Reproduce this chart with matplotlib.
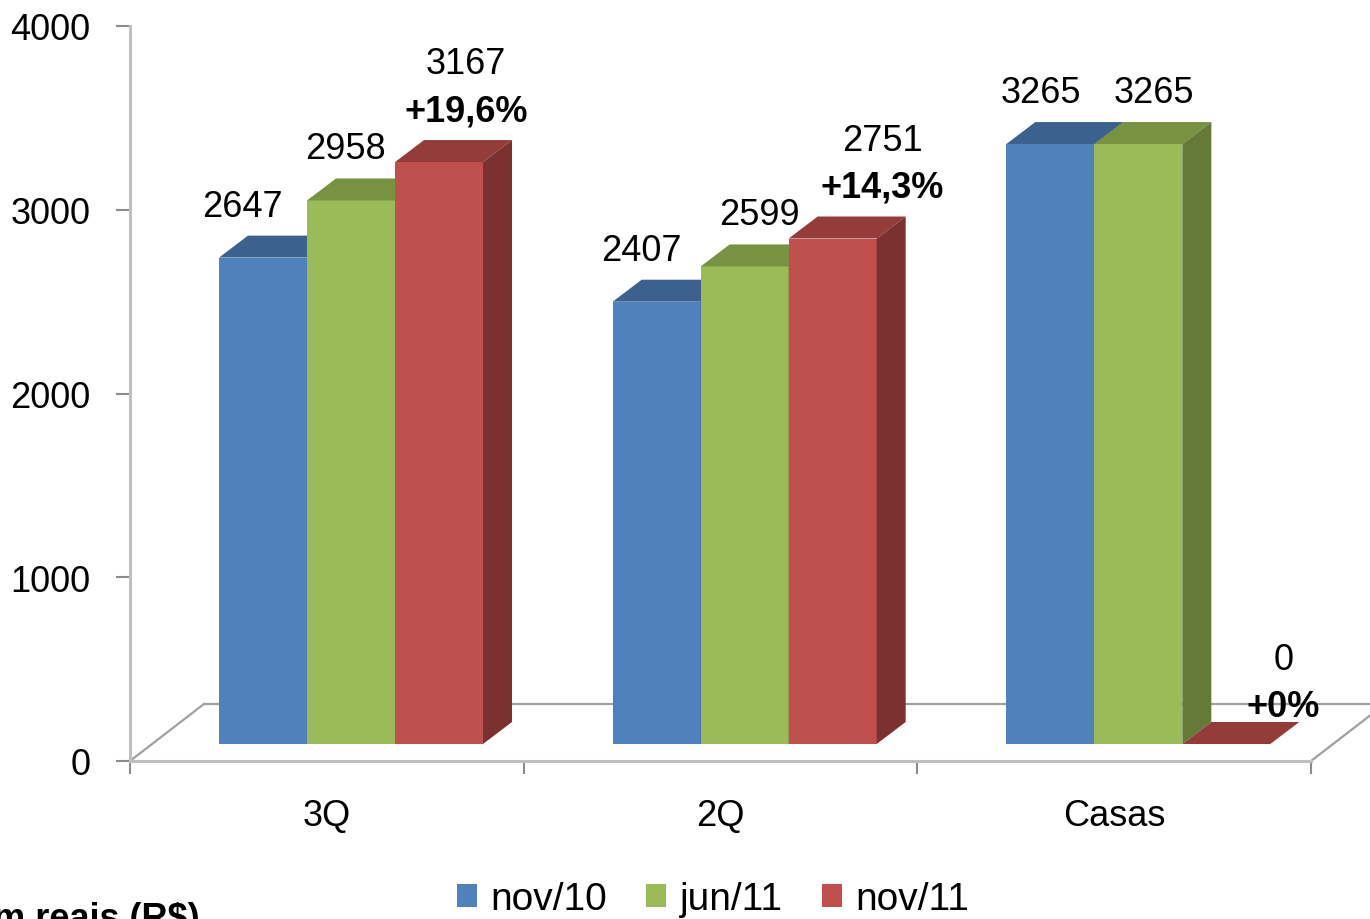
import matplotlib
matplotlib.use("Agg")
import matplotlib.pyplot as plt
from matplotlib.patches import Polygon

# ── data ───────────────────────────────────────────────────────────────────────
categories = ["3Q", "2Q", "Casas"]
series = ["nov/10", "jun/11", "nov/11"]
nov10 = [2647, 2407, 3265]
jun11 = [2958, 2599, 3265]
nov11 = [3167, 2751, 0]
growth = ["+19,6%", "+14,3%", "+0%"]
y_ticks = [0, 1000, 2000, 3000, 4000]

values = [nov10, jun11, nov11]

# ── style ──────────────────────────────────────────────────────────────────────
front = ["#4F81BD", "#9BBB59", "#C0504D"]
top = ["#3C618E", "#779240", "#943C3A"]
side = ["#38577F", "#657A37", "#7B3130"]
FONT = "Liberation Sans"
FS = 26

W, H = 1370, 920
fig = plt.figure(figsize=(W / 100, H / 100), dpi=100)
x0, x1, y0, y1 = 130, 1311, 762, 27          # pixel box of the axes
ax = fig.add_axes([x0 / W, (H - y0) / H, (x1 - x0) / W, (y0 - y1) / H])
ax.set_xlim(0, 3)
ax.set_ylim(0, 4000)

pxx = (x1 - x0) / 3.0          # px per x unit
pxy = (y0 - y1) / 4000.0       # px per y unit

# 3-D offsets (px -> data units)
bar_dx, bar_dy = 29 / pxx, 22 / pxy
floor_dx, floor_dy = 74 / pxx, 57 / pxy
base = 17 / pxy
bar_w = 88 / pxx
first = 89 / pxx

# floor outline
floor_kw = dict(color="#a0a0a0", lw=1.6, clip_on=False, zorder=1)
ax.plot([0, floor_dx], [0, floor_dy], **floor_kw)
ax.plot([3, 3 + floor_dx], [0, floor_dy], **floor_kw)
ax.plot([floor_dx, 3 + floor_dx], [floor_dy, floor_dy], **floor_kw)

label_dx = [[-21, -15, -9], [-6, 15, 16], [27, 50, 57]]   # px shifts of labels

z = 2
for i in range(len(categories)):
    for s in range(len(series)):
        v = values[s][i]
        xl = i + first + s * bar_w
        xr = xl + bar_w
        yb, yt = base, base + v
        ax.add_patch(Polygon([(xl, yb), (xr, yb), (xr, yt), (xl, yt)],
                             closed=True, fc=front[s], ec="none", zorder=z))
        ax.add_patch(Polygon([(xl, yt), (xr, yt), (xr + bar_dx, yt + bar_dy),
                              (xl + bar_dx, yt + bar_dy)],
                             closed=True, fc=top[s], ec="none", zorder=z))
        ax.add_patch(Polygon([(xr, yb), (xr + bar_dx, yb + bar_dy),
                              (xr + bar_dx, yt + bar_dy), (xr, yt)],
                             closed=True, fc=side[s], ec="none", zorder=z))
        z += 1
        lx = (xl + xr) / 2 + label_dx[s][i] / pxx
        ly = yt + bar_dy + (12 if v else -2) / pxy
        if s == 2:
            ax.text(lx, ly, growth[i], ha="center", va="bottom", fontsize=FS,
                    fontweight="bold", family=FONT, clip_on=False, zorder=20)
            ax.text(lx, ly + 47 / pxy, f"{v}", ha="center", va="bottom",
                    fontsize=FS, family=FONT, clip_on=False, zorder=20)
        else:
            ax.text(lx, ly, f"{v}", ha="center", va="bottom", fontsize=FS,
                    family=FONT, clip_on=False, zorder=20)

# ── axes ───────────────────────────────────────────────────────────────────────
for sp in ["top", "right"]:
    ax.spines[sp].set_visible(False)
for sp in ["left", "bottom"]:
    ax.spines[sp].set_color("#bfbfbf")
    ax.spines[sp].set_linewidth(2.2)
ax.set_yticks(y_ticks)
ax.set_yticklabels([str(t) for t in y_ticks], fontsize=FS, family=FONT)
ax.set_xticks([0, 1, 2, 3])
ax.set_xticklabels([])
ax.set_xticks([0.5, 1.5, 2.5], minor=True)
ax.set_xticklabels(categories, minor=True, fontsize=FS, family=FONT)
ax.tick_params(axis="y", length=10, width=1.5, color="#8c8c8c", pad=18.5)
ax.tick_params(axis="x", which="major", length=9, width=1.5, color="#8c8c8c")
ax.tick_params(axis="x", which="minor", length=0, pad=26.5)
ax.patch.set_alpha(0)

# legend
handles = [plt.Rectangle((0, 0), 1, 1, fc=c, ec="none") for c in front]
fig.legend(handles, series, loc="center", bbox_to_anchor=(713 / W, 1 - 900 / H),
           ncol=3, frameon=False, prop={"family": FONT, "size": 28},
           handlelength=0.52, handleheight=0.52, handletextpad=0.35,
           columnspacing=1.0, borderaxespad=0)

fig.text(200 / W, -9 / H, "em reais (R$)", ha="right", va="baseline",
         fontsize=FS, fontweight="bold", family=FONT)

fig.savefig("out.png", dpi=100)
